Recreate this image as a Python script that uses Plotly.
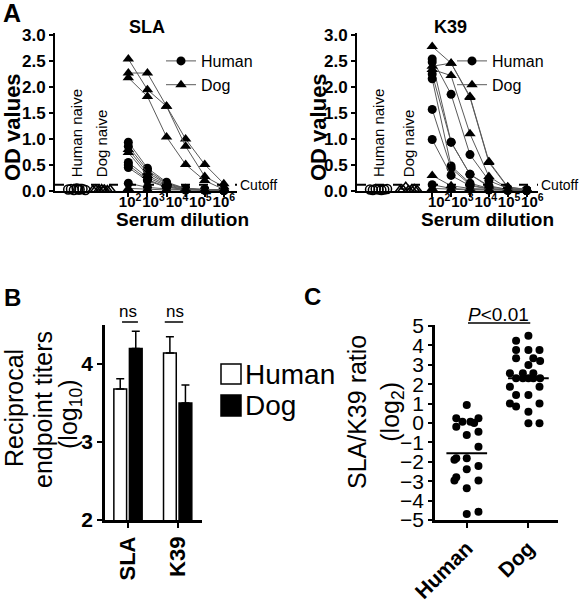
import plotly.graph_objects as go

W, H = 581, 601
FONT = "Arial, 'Liberation Sans', sans-serif"


def fx(p):
    return p / W


def fy(p):
    return 1 - p / H


# ---------------- Panel A data ----------------
dilution_labels = ["10<sup>2</sup>", "10<sup>3</sup>", "10<sup>4</sup>", "10<sup>5</sup>", "10<sup>6</sup>"]
cutoff_od = 0.12

sla_human = [
    [0.94, 0.44, 0.17, 0.05, 0.03, 0.02],
    [0.86, 0.40, 0.15, 0.04, 0.02, 0.02],
    [0.55, 0.26, 0.10, 0.03, 0.02, 0.01],
    [0.50, 0.22, 0.08, 0.03, 0.02, 0.01],
    [0.45, 0.20, 0.07, 0.03, 0.02, 0.01],
    [0.15, 0.07, 0.04, 0.02, 0.02, 0.01],
]
sla_dog = [
    [2.27, 2.27, 1.63, 1.00, 0.51, 0.14],
    [2.54, 1.95, 1.63, 0.86, 0.28, 0.08],
    [2.18, 1.82, 1.04, 0.51, 0.20, 0.03],
    [0.80, 0.35, 0.14, 0.05, 0.03, 0.02],
    [0.74, 0.30, 0.12, 0.04, 0.02, 0.02],
    [0.05, 0.03, 0.02, 0.02, 0.02, 0.02],
]
sla_naive_human = [0.03, 0.04, 0.02, 0.05, 0.03, 0.04, 0.02, 0.03]
sla_naive_dog = [0.02, 0.03, 0.02, 0.04, 0.03, 0.02, 0.03, 0.02]

k39_human = [
    [2.54, 1.86, 0.70, 0.20, 0.05, 0.02],
    [2.48, 0.94, 0.32, 0.10, 0.03, 0.02],
    [2.25, 0.94, 0.32, 0.08, 0.03, 0.01],
    [2.16, 0.48, 0.15, 0.05, 0.02, 0.01],
    [1.57, 0.44, 0.12, 0.04, 0.02, 0.01],
    [0.99, 0.30, 0.10, 0.04, 0.02, 0.01],
    [0.12, 0.05, 0.03, 0.02, 0.01, 0.01],
]
k39_dog = [
    [2.78, 2.46, 1.82, 0.57, 0.08, 0.03],
    [2.40, 2.46, 1.80, 0.55, 0.07, 0.03],
    [2.34, 2.22, 1.10, 0.28, 0.05, 0.02],
    [0.30, 0.10, 0.05, 0.03, 0.02, 0.02],
    [0.05, 0.03, 0.02, 0.02, 0.02, 0.02],
]
k39_naive_human = [0.03, 0.02, 0.04, 0.03, 0.02, 0.03, 0.04]
k39_naive_dog = [0.02, 0.03, 0.08, 0.02, 0.03, 0.04, 0.02]
naive_jitter = [-0.45, -0.3, -0.15, 0.0, 0.15, 0.3, 0.45, 0.08]

# ---------------- Panel B data ----------------
antigens = ["SLA", "K39"]
titer_human = [3.68, 4.14]
titer_human_sem = [0.13, 0.21]
titer_dog = [4.20, 3.50]
titer_dog_sem = [0.22, 0.23]

# ---------------- Panel C data ----------------
species = ["Human", "Dog"]
ratio_human = [0.93, 0.24, 0.24, 0.07, 0.07, 0.0, -0.19, -0.45, -0.62, -1.22, -1.82, -1.82,
               -1.9, -2.22, -2.39, -2.8, -2.97, -2.97, -3.37, -4.57, -4.69]
jitter_human = [0.0, -0.17, 0.19, -0.07, 0.06, 0.12, -0.17, 0.19, 0.0, 0.19, -0.17, 0.0,
                -0.2, 0.19, 0.0, -0.17, -0.2, 0.19, 0.0, 0.19, 0.0]
ratio_dog = [4.5, 4.24, 3.76, 3.76, 3.76, 3.33, 3.33, 3.2, 2.99, 2.56, 2.56, 2.56, 2.3, 2.3,
             2.3, 2.3, 2.3, 1.87, 1.87, 1.44, 1.44, 1.01, 1.01, 0.85, 0.58, -0.02, -0.02]
jitter_dog = [0.0, -0.2, -0.2, 0.0, 0.18, -0.2, 0.08, 0.19, 0.0, -0.3, -0.09, 0.08, -0.2, -0.09,
              0.0, 0.08, 0.19, -0.3, 0.18, -0.2, 0.0, -0.3, 0.18, -0.2, 0.0, 0.0, 0.18]
ratio_median = [-1.56, 2.3]

fig = go.Figure()

LINE_GREY = "#5a5a5a"


def add_panel_a(human, dog, nh, nd, xa, ya, legend, pos_h, pos_d):
    for i, c in enumerate(human):
        fig.add_trace(go.Scatter(
            x=list(range(len(c))), y=c, mode="lines+markers", name="Human",
            line=dict(color=LINE_GREY, width=1),
            marker=dict(symbol="circle", size=9, color="black"),
            xaxis=xa, yaxis=ya, legend=legend, showlegend=(i == 0), cliponaxis=False))
    for i, c in enumerate(dog):
        fig.add_trace(go.Scatter(
            x=list(range(len(c))), y=c, mode="lines+markers", name="Dog",
            line=dict(color=LINE_GREY, width=1),
            marker=dict(symbol="triangle-up", size=10, color="black"),
            xaxis=xa, yaxis=ya, legend=legend, showlegend=(i == 0), cliponaxis=False))
    fig.add_trace(go.Scatter(
        x=[pos_h + j for j in naive_jitter[:len(nh)]], y=nh, mode="markers",
        marker=dict(symbol="circle-open", size=9, color="black", line=dict(width=1.5)),
        xaxis=xa, yaxis=ya, showlegend=False, cliponaxis=False))
    fig.add_trace(go.Scatter(
        x=[pos_d + j for j in naive_jitter[:len(nd)]], y=nd, mode="markers",
        marker=dict(symbol="triangle-up-open", size=9, color="black", line=dict(width=1.5)),
        xaxis=xa, yaxis=ya, showlegend=False, cliponaxis=False))


add_panel_a(sla_human, sla_dog, sla_naive_human, sla_naive_dog, "x", "y", "legend", -2.7, -1.4)
add_panel_a(k39_human, k39_dog, k39_naive_human, k39_naive_dog, "x2", "y2", "legend2", -2.84, -1.25)

# Panel B bars
fig.add_trace(go.Bar(
    x=antigens, y=titer_human, name="Human", xaxis="x3", yaxis="y3",
    marker=dict(color="white", line=dict(color="black", width=1.5)),
    error_y=dict(type="data", array=titer_human_sem, arrayminus=[0] * len(titer_human),
                 symmetric=False, color="black", thickness=1.5, width=4),
    showlegend=False))
fig.add_trace(go.Bar(
    x=antigens, y=titer_dog, name="Dog", xaxis="x3", yaxis="y3",
    marker=dict(color="black", line=dict(color="black", width=1.5)),
    error_y=dict(type="data", array=titer_dog_sem, arrayminus=[0] * len(titer_dog),
                 symmetric=False, color="black", thickness=1.5, width=4),
    showlegend=False))

# Panel C scatter
fig.add_trace(go.Scatter(
    x=[0 + j for j in jitter_human], y=ratio_human, mode="markers",
    marker=dict(size=8, color="black"), xaxis="x4", yaxis="y4", showlegend=False, cliponaxis=False))
fig.add_trace(go.Scatter(
    x=[1 + j for j in jitter_dog], y=ratio_dog, mode="markers",
    marker=dict(size=8, color="black"), xaxis="x4", yaxis="y4", showlegend=False, cliponaxis=False))
for gi, m in enumerate(ratio_median):
    fig.add_trace(go.Scatter(
        x=[gi - 0.33, gi + 0.33], y=[m, m], mode="lines",
        line=dict(color="black", width=2), xaxis="x4", yaxis="y4", showlegend=False, cliponaxis=False))

axis_common = dict(showline=True, linecolor="black", linewidth=2, showgrid=False, zeroline=False,
                   ticks="outside", tickcolor="black", tickwidth=2, ticklen=4, automargin=False)

# Panel A axes
sla_tickpos = [0.09, 1.32, 2.55, 3.77, 5.0]
k39_tickpos = [0.37, 1.60, 2.84, 4.07, 5.30]
col_pos = list(range(6))
for xa, ya, dom, rng, tpos in [("xaxis", "yaxis", [55, 237], [-3.84, 5.69], sla_tickpos),
                               ("xaxis2", "yaxis2", [357, 538], [-3.98, 5.6], k39_tickpos)]:
    anchor_y = "y" if ya == "yaxis" else "y2"
    anchor_x = "x" if xa == "xaxis" else "x2"
    fig.layout[xa] = dict(axis_common, domain=[fx(dom[0]), fx(dom[1])], range=rng, anchor=anchor_y,
                          tickmode="array", tickvals=tpos, ticktext=dilution_labels, ticks="",
                          tickangle=0, ticklabelstandoff=-4,
                          tickfont=dict(family=FONT, size=15, color="black", weight="bold"),
                          minor=dict(tickmode="array", tickvals=col_pos, ticks="outside",
                                     ticklen=4, tickwidth=2, tickcolor="black"))
    fig.layout[ya] = dict(axis_common, domain=[fy(191), fy(33)], range=[0, 3.04], anchor=anchor_x,
                          tickmode="array", tickvals=[0, 0.5, 1, 1.5, 2, 2.5, 3],
                          ticktext=["0.0", "0.5", "1.0", "1.5", "2.0", "2.5", "3.0"],
                          tickfont=dict(family=FONT, size=17, color="black", weight="bold"))

# Panel B axes
fig.layout["xaxis3"] = dict(axis_common, domain=[fx(105), fx(202)], range=[-0.463, 1.49], anchor="y3",
                            type="category", tickangle=-90, linewidth=2.5, ticklen=5,
                            tickfont=dict(family=FONT, size=22, color="black", weight="bold"))
fig.layout["yaxis3"] = dict(axis_common, domain=[fy(520), fy(325)], range=[2, 4.5], anchor="x3",
                            tickvals=[2, 3, 4], linewidth=2.5, ticklen=5,
                            tickfont=dict(family=FONT, size=21, color="black", weight="bold"))

# Panel C axes
fig.layout["xaxis4"] = dict(axis_common, domain=[fx(435), fx(558)], range=[-0.515, 1.48], anchor="y4",
                            tickmode="array", tickvals=[0, 1], ticktext=species, tickangle=-45,
                            linewidth=2.5, ticklen=5,
                            tickfont=dict(family=FONT, size=21, color="black", weight="bold"))
fig.layout["yaxis4"] = dict(axis_common, domain=[fy(520), fy(325)], range=[-5, 5.05], anchor="x4",
                            tickmode="array", tickvals=list(range(-5, 6)), linewidth=2.5, ticklen=4,
                            tickfont=dict(family=FONT, size=21, color="black"))

ann = []
shapes = []


def txt(x, y, s, size, bold=False, angle=0, xref="paper", yref="paper", xanchor="center",
        yanchor="middle"):
    ann.append(dict(x=x, y=y, xref=xref, yref=yref, text=s, showarrow=False, textangle=angle,
                    xanchor=xanchor, yanchor=yanchor,
                    font=dict(family=FONT, size=size, color="black", weight="bold" if bold else "normal")))


# Panel A decorations
txt(fx(12), fy(13), "A", 25, bold=True)
for xr, yr, title, tx, odx, sx, naive_h, naive_d in [
        ("x", "y", "SLA", 147, 12, 182, -2.7, -1.4),
        ("x2", "y2", "K39", 450, 318, 487, -2.84, -1.25)]:
    txt(fx(tx), fy(27), title, 18, bold=True)
    txt(fx(odx), fy(127), "OD values", 22, bold=True, angle=-90)
    txt(fx(sx), fy(219), "Serum dilution", 19, bold=True)
    shapes.append(dict(type="line", xref=f"{xr} domain", yref=yr, x0=0, x1=1, y0=cutoff_od, y1=cutoff_od,
                       line=dict(color="black", width=2, dash="dash")))
    ann.append(dict(x=1, y=cutoff_od, xref=f"{xr} domain", yref=yr, text="Cutoff", showarrow=False,
                    xanchor="left", yanchor="middle", xshift=1,
                    font=dict(family=FONT, size=14, color="black")))
    ann.append(dict(x=naive_h, y=0.22, xref=xr, yref=yr, text="Human naive", showarrow=False,
                    textangle=-90, xanchor="center", yanchor="bottom",
                    font=dict(family=FONT, size=15, color="black")))
    ann.append(dict(x=naive_d, y=0.22, xref=xr, yref=yr, text="Dog naive", showarrow=False,
                    textangle=-90, xanchor="center", yanchor="bottom",
                    font=dict(family=FONT, size=15, color="black")))

# Panel B decorations
txt(fx(12), fy(297), "B", 24, bold=True)
txt(fx(14), fy(408), "Reciprocal", 25, angle=-90)
txt(fx(43), fy(410), "endpoint titers", 25, angle=-90)
txt(fx(70), fy(415), "(log<sub>10</sub>)", 25, angle=-90)
for cx, u0, u1 in [(0.0, -0.12, 0.2), (0.95, 0.74, 1.11)]:
    ann.append(dict(x=cx, y=fy(311), xref="x3", yref="paper", text="ns", showarrow=False,
                    font=dict(family=FONT, size=17, color="black")))
    shapes.append(dict(type="line", xref="x3", yref="paper", x0=u0, x1=u1, y0=fy(322), y1=fy(322),
                       line=dict(color="black", width=1.5)))
shapes.append(dict(type="rect", xref="paper", yref="paper", x0=fx(221), x1=fx(241), y0=fy(384), y1=fy(364),
                   line=dict(color="black", width=1.5), fillcolor="white"))
shapes.append(dict(type="rect", xref="paper", yref="paper", x0=fx(221), x1=fx(241), y0=fy(416), y1=fy(395),
                   line=dict(color="black", width=1.5), fillcolor="black"))
txt(fx(243), fy(374), "Human", 28, xanchor="left")
txt(fx(243), fy(405), "Dog", 28, xanchor="left")

# Panel C decorations
txt(fx(312), fy(296), "C", 24, bold=True)
txt(fx(376), fy(412), "SLA/K39 ratio<br>(log<sub>2</sub>)", 25, angle=-90)
ann.append(dict(x=0.52, y=fy(314), xref="x4", yref="paper", text="<i>P</i>&lt;0.01", showarrow=False,
                font=dict(family=FONT, size=19, color="black")))
shapes.append(dict(type="line", xref="x4", yref="paper", x0=0.02, x1=1.03, y0=fy(323), y1=fy(323),
                   line=dict(color="black", width=1.5)))

legend_style = dict(xanchor="left", yanchor="top", bgcolor="rgba(0,0,0,0)", borderwidth=0,
                    font=dict(family=FONT, size=16, color="black"), tracegroupgap=0, itemwidth=30)

fig.update_layout(
    template="none",
    width=W, height=H, autosize=False,
    margin=dict(l=0, r=0, t=0, b=0, pad=0),
    paper_bgcolor="white", plot_bgcolor="white",
    font=dict(family=FONT, color="black"),
    bargap=0.374, bargroupgap=0.18, barmode="group",
    annotations=ann, shapes=shapes,
    legend=dict(legend_style, x=fx(161), y=fy(44)),
    legend2=dict(legend_style, x=fx(452), y=fy(44)),
)

fig.write_html("out.html", config={"displayModeBar": False},
               post_script="document.body.style.margin='0';document.body.style.overflow='hidden';")
